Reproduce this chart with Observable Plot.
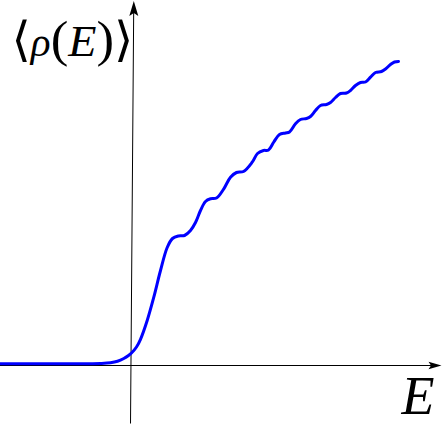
<!DOCTYPE html>
<html>
<head>
<meta charset="utf-8">
<script src="https://cdn.jsdelivr.net/npm/d3@7"></script>
<script src="https://cdn.jsdelivr.net/npm/@observablehq/plot@0.6"></script>
<style>
  html, body { margin: 0; padding: 0; background: white; }
  svg { display: block; }
</style>
</head>
<body>
<div id="chart"></div>
<script>
// Curve: energy E and smoothed density <rho(E)>
const energy = [-1.31, -0.71, -0.41, -0.31, -0.21, -0.14, -0.077, -0.03, 0, 0.05, 0.09, 0.157, 0.223, 0.29, 0.357, 0.41, 0.47, 0.53,
  0.59, 0.64, 0.69, 0.74, 0.79, 0.85, 0.923, 0.99, 1.05, 1.12, 1.207, 1.26, 1.32, 1.37, 1.423, 1.48, 1.54, 1.58,
  1.64, 1.69, 1.75, 1.79, 1.84, 1.89, 1.95, 1.99, 2.04, 2.09, 2.15, 2.19, 2.24, 2.29, 2.34, 2.39, 2.44, 2.50,
  2.54, 2.59, 2.63, 2.67];
const rho = [0.017, 0.017, 0.018, 0.02, 0.027, 0.042, 0.07, 0.1, 0.125, 0.185, 0.262, 0.45, 0.683, 0.95, 1.18, 1.27, 1.295, 1.30,
  1.35, 1.43, 1.55, 1.64, 1.667, 1.675, 1.767, 1.883, 1.93, 1.94, 2.033, 2.12, 2.15, 2.155, 2.235, 2.31, 2.325, 2.335,
  2.417, 2.46, 2.47, 2.49, 2.55, 2.60, 2.61, 2.63, 2.68, 2.72, 2.725, 2.75, 2.80, 2.83, 2.835, 2.883, 2.93, 2.94,
  2.965, 3.01, 3.035, 3.04];

// Axis extents (data units)
const xDomain = [-1.31, 3.11];
const yDomain = [-0.60, 3.65];
const xAxisLine = [{x1: -1.31, x2: 3.0, y: 0}];
const yAxisLine = [{x1: -0.01, y1: -0.58, x2: 0.022, y2: 3.55}];
const xArrowTip = [{x: 3.10, y: 0}];
const yArrowTip = [{x: 0.023, y: 3.645}];

const xLabel = "E";
const yLabelParts = ["⟨", "ρ", "(", "E", ")", "⟩"];

const curve = energy.map((e, i) => ({E: e, rho: rho[i]}));

const arrowHead = {
  draw(ctx) {
    ctx.moveTo(0, 0);
    ctx.lineTo(4.5, 15);
    ctx.lineTo(0, 12);
    ctx.lineTo(-4.5, 15);
    ctx.closePath();
  }
};
const arrowHeadSmall = {
  draw(ctx) {
    ctx.moveTo(0, 0);
    ctx.lineTo(3.8, 13);
    ctx.lineTo(0, 10.5);
    ctx.lineTo(-3.8, 13);
    ctx.closePath();
  }
};

const svg = Plot.plot({
  width: 442,
  height: 425,
  margin: 0,
  x: {domain: xDomain, axis: null},
  y: {domain: yDomain, axis: null},
  style: {background: "white"},
  marks: [
    Plot.ruleY(xAxisLine, {x1: "x1", x2: "x2", y: "y", stroke: "black", strokeWidth: 1}),
    Plot.link(yAxisLine, {x1: "x1", y1: "y1", x2: "x2", y2: "y2", stroke: "black", strokeWidth: 1}),
    Plot.dot(xArrowTip, {x: "x", y: "y", symbol: arrowHeadSmall, r: 5, fill: "black", stroke: "none", rotate: 90}),
    Plot.dot(yArrowTip, {x: "x", y: "y", symbol: arrowHead, r: 5, fill: "black", stroke: "none", rotate: 0}),
    Plot.line(curve, {x: "E", y: "rho", stroke: "#0000ff", strokeWidth: 3, curve: "catmull-rom"}),
    Plot.text([xLabel], {frameAnchor: "bottom-right", dx: -8, dy: -12, textAnchor: "end", lineAnchor: "bottom",
      fontSize: 54, fontStyle: "italic", fontFamily: "Liberation Serif", fill: "black"}),
    Plot.text([yLabelParts.join("")], {frameAnchor: "top-left", dx: 6, dy: 4, textAnchor: "start", lineAnchor: "top",
      fontSize: 40, fontFamily: "Liberation Serif", fill: "black"})
  ]
});

document.getElementById("chart").appendChild(svg);

// Rebuild the y label: large delimiters, letters flowing naturally, scaled to the reference footprint
const texts = d3.select(svg).selectAll("text").filter(function() { return this.textContent === yLabelParts.join(""); });
texts.each(function() {
  const t = d3.select(this);
  t.text(null)
    .attr("x", 0).attr("y", 0).attr("dy", null)
    .attr("text-anchor", "start");
  const spec = [
    {s: yLabelParts[0], size: 60, fam: "DejaVu Sans", it: false},
    {s: yLabelParts[1], size: 50, fam: "Liberation Serif", it: true},
    {s: yLabelParts[2], size: 64, fam: "Liberation Serif", it: false},
    {s: yLabelParts[3], size: 56, fam: "Liberation Serif", it: true},
    {s: yLabelParts[4], size: 64, fam: "Liberation Serif", it: false},
    {s: yLabelParts[5], size: 60, fam: "DejaVu Sans", it: false}
  ];
  for (const p of spec) {
    t.append("tspan").attr("font-size", p.size)
      .attr("font-family", p.fam).attr("font-style", p.it ? "italic" : "normal").text(p.s);
  }
  const w = this.getComputedTextLength() || 146;
  const sx = 122 / w;
  t.attr("transform", `translate(5,51) scale(${sx.toFixed(3)},0.8)`);
});
</script>
</body>
</html>
